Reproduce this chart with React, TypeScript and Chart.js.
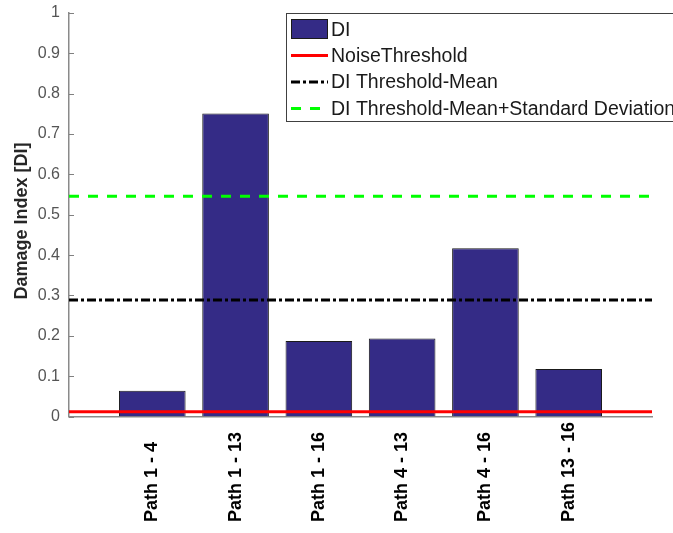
import React, { useEffect, useRef } from 'react';
import { Chart, registerables } from 'chart.js';

Chart.register(...registerables);

const categories = ['Path 1 - 4', 'Path 1 - 13', 'Path 1 - 16', 'Path 4 - 13', 'Path 4 - 16', 'Path 13 - 16'];
const diValues = [0.064, 0.751, 0.187, 0.193, 0.417, 0.118];
const lineSpan = [0, 7];
const noiseThreshold = [0.012, 0.012];
const meanThreshold = [0.289, 0.289];
const meanStdThreshold = [0.546, 0.546];
const yTickValues = [0, 0.1, 0.2, 0.3, 0.4, 0.5, 0.6, 0.7, 0.8, 0.9, 1];
const legendLabels = ['DI', 'NoiseThreshold', 'DI Threshold-Mean', 'DI Threshold-Mean+Standard Deviation'];
const yTitle = 'Damage Index [DI]';

const FONT = '"Liberation Sans", Arial, Helvetica, sans-serif';

const customPlugin = {
  id: 'matlabDecor',
  afterDraw(chart: any) {
    const ctx = chart.ctx;
    const xs = chart.scales.x;
    const ys = chart.scales.y;
    const area = chart.chartArea;
    ctx.save();
    // inward y ticks
    ctx.strokeStyle = '#808080';
    ctx.lineWidth = 1;
    yTickValues.forEach((v) => {
      const py = Math.round(ys.getPixelForValue(v)) + 0.5;
      ctx.beginPath();
      ctx.moveTo(area.left, py);
      ctx.lineTo(area.left + 5, py);
      ctx.stroke();
    });
    // y title
    ctx.save();
    ctx.fillStyle = '#262626';
    ctx.font = 'bold 18px ' + FONT;
    ctx.textAlign = 'center';
    ctx.textBaseline = 'middle';
    ctx.translate(22.5, 221);
    ctx.rotate(-Math.PI / 2);
    ctx.fillText(yTitle, 0, 0);
    ctx.restore();
    // rotated x labels, bottom aligned
    ctx.fillStyle = '#000000';
    ctx.font = 'bold 18px ' + FONT;
    ctx.textAlign = 'left';
    ctx.textBaseline = 'middle';
    categories.forEach((c, i) => {
      const px = xs.getPixelForValue(i + 1);
      ctx.save();
      ctx.translate(px, 522);
      ctx.rotate(-Math.PI / 2);
      ctx.fillText(c, 0, 0);
      ctx.restore();
    });
    // legend
    const bx = 286.5, by = 13.5, bw = 500, bh = 108;
    ctx.fillStyle = '#ffffff';
    ctx.fillRect(bx, by, bw, bh);
    ctx.strokeStyle = '#404040';
    ctx.lineWidth = 1;
    ctx.strokeRect(bx, by, bw, bh);
    const rowY = [29.5, 55.5, 82, 108.5];
    const ds = chart.data.datasets;
    ctx.font = '19.5px ' + FONT;
    ctx.textBaseline = 'middle';
    ctx.textAlign = 'left';
    legendLabels.forEach((lab, i) => {
      const d = ds[i];
      const y = rowY[i];
      if (i === 0) {
        ctx.fillStyle = d.backgroundColor;
        ctx.fillRect(291, 19, 37, 20);
        ctx.strokeStyle = d.borderColor;
        ctx.lineWidth = 1;
        ctx.setLineDash([]);
        ctx.strokeRect(291.5, 19.5, 36, 19);
      } else {
        ctx.strokeStyle = d.borderColor;
        ctx.lineWidth = d.borderWidth;
        ctx.setLineDash(d.borderDash || []);
        ctx.beginPath();
        ctx.moveTo(291, y);
        ctx.lineTo(328, y);
        ctx.stroke();
        ctx.setLineDash([]);
      }
      ctx.fillStyle = '#1a1a1a';
      ctx.fillText(lab, 331, y + 1);
    });
    ctx.restore();
  },
};

export default function App() {
  const canvasRef = useRef<HTMLCanvasElement | null>(null);

  useEffect(() => {
    if (!canvasRef.current) return;
    const mkLine = (vals: number[]) => lineSpan.map((x, i) => ({ x, y: vals[i] }));
    const chart = new Chart(canvasRef.current, {
      type: 'bar',
      data: {
        datasets: [
          {
            type: 'bar',
            label: legendLabels[0],
            data: categories.map((_, i) => ({ x: i + 1, y: diValues[i] })),
            backgroundColor: 'rgb(52,43,134)',
            borderColor: '#1a1a1a',
            borderWidth: 1,
            barPercentage: 0.8,
            categoryPercentage: 1,
            order: 10,
          },
          {
            type: 'line',
            label: legendLabels[1],
            data: mkLine(noiseThreshold),
            borderColor: '#ff0000',
            borderWidth: 3,
            pointRadius: 0,
            order: 1,
          },
          {
            type: 'line',
            label: legendLabels[2],
            data: mkLine(meanThreshold),
            borderColor: '#000000',
            borderWidth: 3,
            borderDash: [9, 3, 3, 3],
            pointRadius: 0,
            order: 2,
          },
          {
            type: 'line',
            label: legendLabels[3],
            data: mkLine(meanStdThreshold),
            borderColor: '#00ff00',
            borderWidth: 3,
            borderDash: [10, 9],
            pointRadius: 0,
            order: 3,
          },
        ],
      } as any,
      options: {
        animation: false,
        responsive: false,
        maintainAspectRatio: false,
        layout: { padding: { top: 13, right: 21, bottom: 0, left: 0 } },
        plugins: { legend: { display: false }, tooltip: { enabled: false } },
        scales: {
          x: {
            type: 'linear',
            min: 0,
            max: 7,
            offset: false,
            ticks: { display: false, stepSize: 1 },
            grid: { display: false, offset: false, drawTicks: false },
            border: { display: true, color: '#8a8a8a', width: 1.5 },
            afterFit: (s: any) => {
              s.height = 116.5;
              s.paddingLeft = 0;
              s.paddingRight = 0;
            },
          },
          y: {
            type: 'linear',
            min: 0,
            max: 1,
            afterFit: (s: any) => {
              s.width = 69;
              s.paddingTop = 0;
              s.paddingBottom = 0;
            },
            ticks: {
              stepSize: 0.1,
              padding: 9,
              color: '#555555',
              font: { family: FONT, size: 16 },
              callback: (v: any) => String(Number(Number(v).toFixed(1))),
            },
            grid: { display: false, drawTicks: false },
            border: { display: true, color: '#8a8a8a', width: 1.5 },
          },
        },
      } as any,
      plugins: [customPlugin],
    });
    return () => chart.destroy();
  }, []);

  return (
    <div style={{ position: 'fixed', left: 0, top: 0, width: 673, height: 533, background: '#ffffff' }}>
      <canvas ref={canvasRef} width={673} height={533} style={{ width: 673, height: 533 }} />
    </div>
  );
}
